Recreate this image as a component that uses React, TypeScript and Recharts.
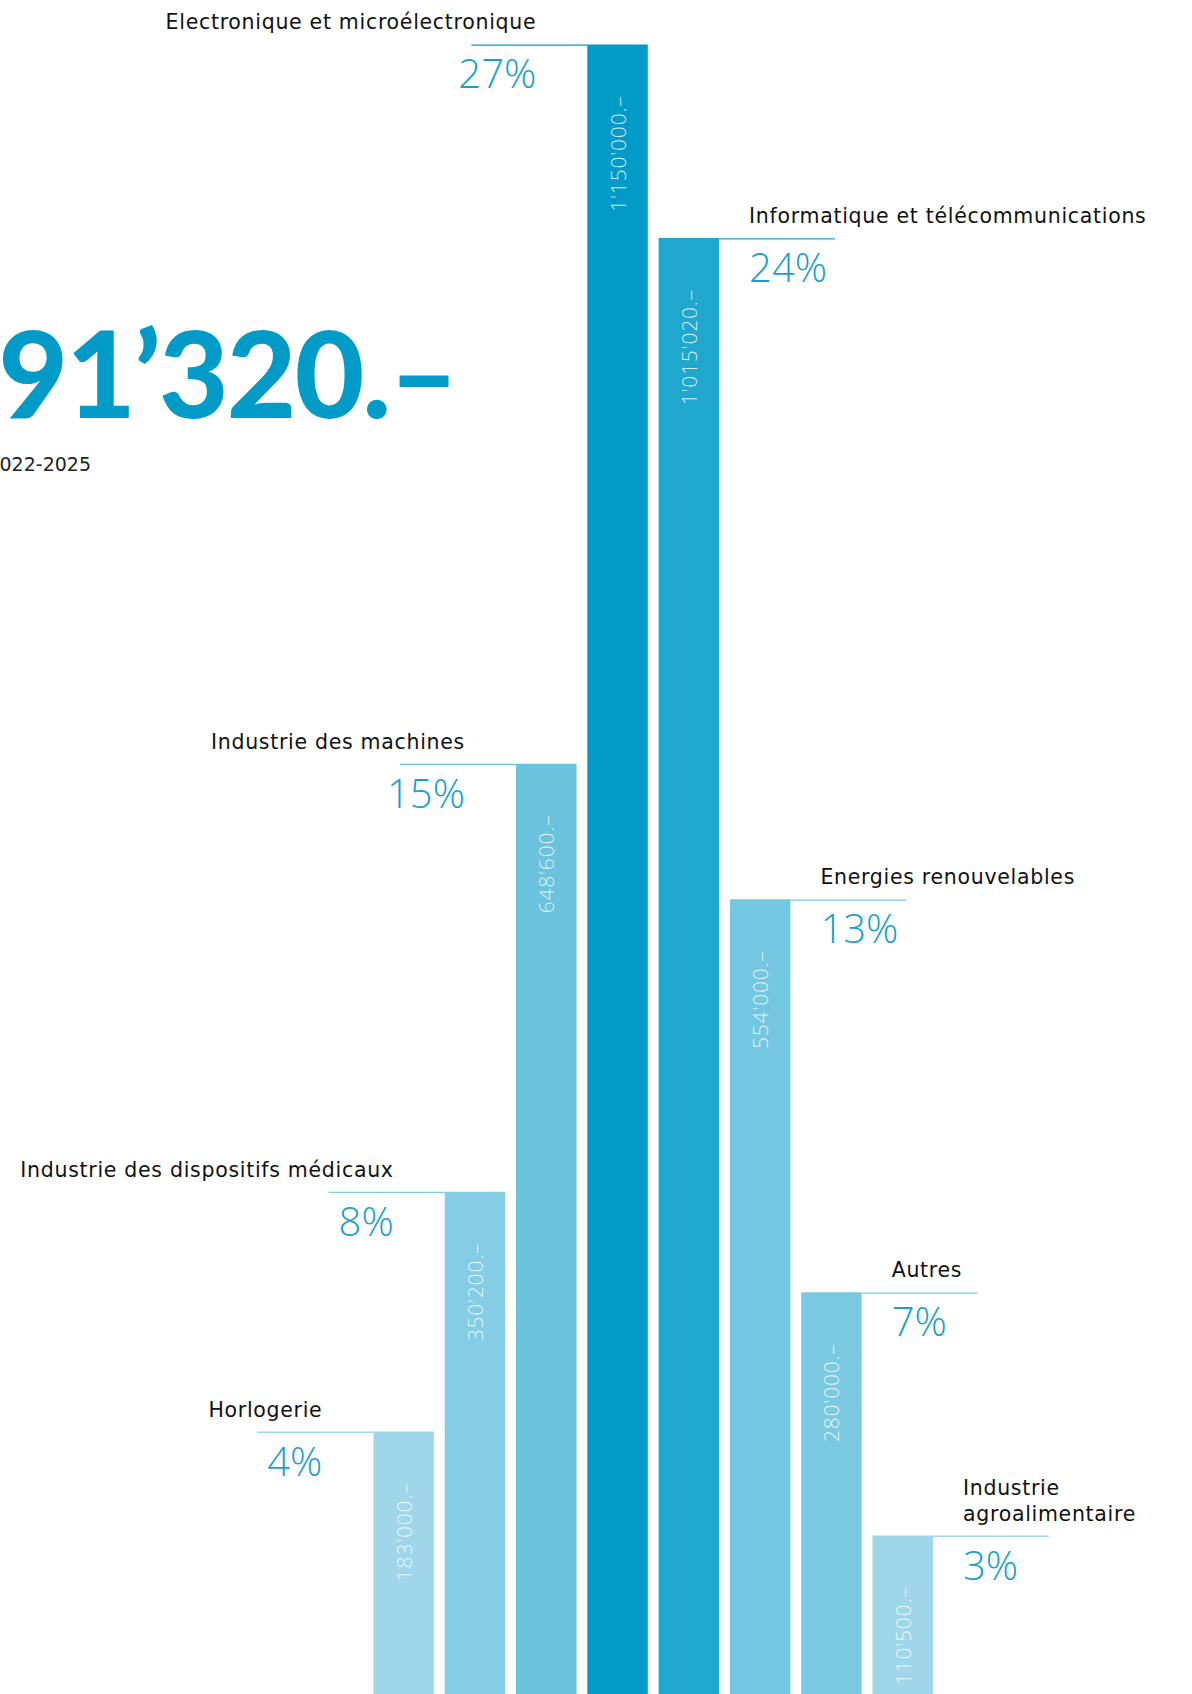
import { BarChart, Bar, XAxis, YAxis, Cell, LabelList } from "recharts"

// categories, left to right
const categories = [
  "Horlogerie",
  "Industrie des dispositifs médicaux",
  "Industrie des machines",
  "Electronique et microélectronique",
  "Informatique et télécommunications",
  "Energies renouvelables",
  "Autres",
  "Industrie agroalimentaire",
]

// amounts in CHF
const amounts = [183000, 350200, 648600, 1150000, 1015020, 554000, 280000, 110500]

// share of total, %
const shares = [4, 8, 15, 27, 24, 13, 7, 3]

const period = "2022-2025"
const headline = "Montant total"

const barColors = ["#9fd6e9", "#84cde4", "#6ac2dd", "#029bc7", "#1fa7ce", "#74c7e0", "#7bc9e1", "#9fd6e9"]

const W = 1192
const H = 1694
const BLUE = "#029bc7"
const PCT = "#1a9fcd"
const SANS = "'DejaVu Sans', sans-serif"

const fmt = (n: number) => String(n).replace(/\B(?=(\d{3})+(?!\d))/g, "'")

const total = amounts.reduce((a, b) => a + b, 0)

const data = categories.map((name, i) => ({ name, amount: amounts[i] }))

// split a label in two when it would run past the page edge
function wrap(text: string, room: number) {
  if (text.length * 11.6 <= room) return [text]
  const cut = text.indexOf(" ")
  return cut < 0 ? [text] : [text.slice(0, cut), text.slice(cut + 1)]
}

function SideLabel(props: any) {
  const { x, y, width, index } = props
  const left = index < 4
  const color = barColors[index]
  const lineLen = 116
  const x0 = left ? x - lineLen : x + width
  const x1 = left ? x : x + width + lineLen
  const tx = left ? x - 51 : x + width + 30
  const anchor = left ? "end" : "start"
  const lines = left ? [categories[index]] : wrap(categories[index], W - tx - 10)
  const lh = 26
  return (
    <g>
      <line x1={x0} x2={x1} y1={y + 0.75} y2={y + 0.75} stroke={color} strokeWidth={1.3} />
      <text
        x={tx}
        y={y - 15 - (lines.length - 1) * lh}
        textAnchor={anchor}
        fontFamily={SANS}
        fontSize={20.5}
        letterSpacing={0.7}
        fill="#111"
      >
        {lines.map((l, k) => (
          <tspan key={k} x={tx} dy={k === 0 ? 0 : lh}>
            {l}
          </tspan>
        ))}
      </text>
      <text x={tx} y={y + 44} textAnchor={anchor} fontFamily="'Open Sans', sans-serif" fontWeight={300} fontSize={40} fill={PCT}>
        {shares[index]}%
      </text>
    </g>
  )
}

function ValueLabel(props: any) {
  const { x, y, width, index } = props
  const cx = x + width / 2
  const ty = y + 51
  return (
    <text
      transform={`translate(${cx},${ty}) rotate(-90)`}
      textAnchor="end"
      dominantBaseline="central"
      fill="#fff"
      fillOpacity={0.8}
      fontFamily="'Open Sans', sans-serif"
      fontWeight={300}
      fontSize={21}
      letterSpacing={0.8}
    >
      {fmt(amounts[index])}.–
    </text>
  )
}

export default function App() {
  return (
    <div style={{ position: "absolute", left: 0, top: 0, width: W, height: H, background: "#fff", overflow: "hidden" }}>
      <BarChart width={W} height={H} data={data} margin={{ top: 0, right: 253.2, left: 368.4, bottom: 0 }}>
        <XAxis dataKey="name" hide />
        <YAxis hide domain={[0, 1181000]} />
        <Bar dataKey="amount" barSize={60.5} isAnimationActive={false}>
          {data.map((d, i) => (
            <Cell key={d.name} fill={barColors[i]} />
          ))}
          <LabelList dataKey="amount" content={SideLabel} />
          <LabelList dataKey="amount" content={ValueLabel} />
        </Bar>
      </BarChart>
      <svg width={W} height={520} style={{ position: "absolute", left: 0, top: 0, pointerEvents: "none" }}>
        <text
          x={457}
          y={418}
          textAnchor="end"
          fontFamily="Lato, sans-serif"
          fontWeight={900}
          fontSize={120}
          letterSpacing={-1.8}
          fill={BLUE}
        >
          {fmt(total).replace(/'/g, "’")}.–
        </text>
        <text x={91} y={471} textAnchor="end" fontFamily={SANS} fontSize={19} fill="#222">
          {headline} {period}
        </text>
      </svg>
    </div>
  )
}
